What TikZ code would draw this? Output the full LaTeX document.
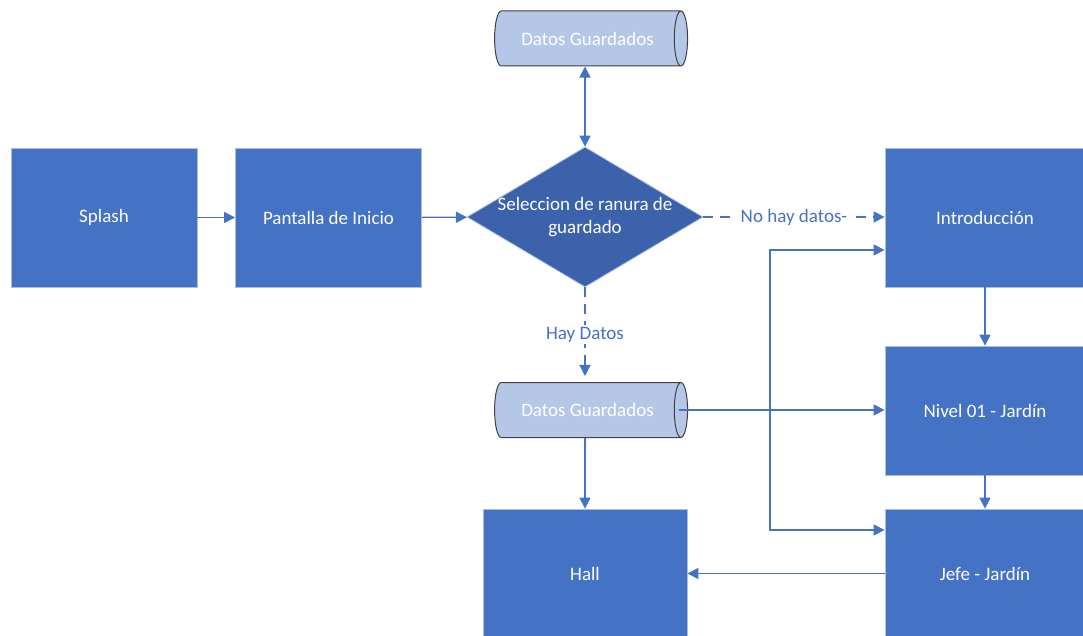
\documentclass[tikz,border=0pt]{standalone}
\usepackage{fontspec}
\setmainfont{Carlito}
\usetikzlibrary{shapes.geometric,arrows.meta,calc}
\definecolor{boxblue}{HTML}{4472C4}
\definecolor{darkblue}{HTML}{3C62AC}
\definecolor{lightblue}{HTML}{B4C7E7}
\definecolor{boxedge}{HTML}{A9BEE3}
\definecolor{cylline}{HTML}{404040}
\begin{document}
\begin{tikzpicture}[x=1pt,y=-1pt,
  font=\fontsize{19}{23}\selectfont,
  block/.style={rectangle, fill=boxblue, draw=boxedge, line width=0.8pt,
    text=white, minimum width=186pt, minimum height=139pt, inner sep=0pt},
  decision/.style={diamond, fill=darkblue, draw=boxedge, line width=0.8pt,
    minimum width=236pt, minimum height=140pt, inner sep=0pt},
  store/.style={cylinder, shape aspect=1.0, draw=cylline, line width=1pt,
    cylinder uses custom fill, cylinder body fill=lightblue,
    cylinder end fill=lightblue, text=white,
    minimum height=193pt, minimum width=55pt, inner sep=0pt},
  conn/.style={draw=boxblue, line width=1.3pt,
    -{Triangle[length=11pt,width=11pt]}},
  twoway/.style={draw=boxblue, line width=1.3pt,
    {Triangle[length=11pt,width=11pt]}-{Triangle[length=11pt,width=11pt]}},
  dashedconn/.style={conn, dash pattern=on 10pt off 7pt},
  edgelabel/.style={fill=white, text=boxblue, inner xsep=6pt, inner ysep=2pt}
]
\clip (0,0) rectangle (1083,636);
\fill[white] (0,0) rectangle (1083,636);

% process boxes
\node[block] (splash) at (104,217.5) {Splash};
\node[block] (inicio) at (328.5,217.5) {Pantalla de Inicio};
\node[block, minimum width=200pt] (intro) at (985,217.5) {Introducción};
\node[block, minimum width=200pt, minimum height=129pt] (nivel) at (985,410.5) {Nivel 01 - Jardín};
\node[block, minimum width=200pt, minimum height=129pt] (jefe) at (985,573.5) {Jefe - Jardín};
\node[block, minimum width=204pt, minimum height=129pt] (hall) at (585,573.5) {Hall};

% decision
\node[decision, label={[text=white, align=center]center:Seleccion de ranura de\\guardado}] (sel) at (585,217) {};

% saved data stores
\node[store] (cyl1) at (587.5,38.5) {Datos Guardados};
\node[store] (cyl2) at (587.5,410) {Datos Guardados};

% branch points of the right-hand bus
\coordinate (bt) at (770,250);
\coordinate (bb) at (770,530);

% connectors
\draw[conn] (splash) -- (inicio);
\draw[conn] (inicio) -- (sel);
\draw[twoway] (sel.north) -- (sel.north |- cyl1.south);
\draw[dashedconn] (sel.east) -- node[edgelabel] {No hay datos-} (intro.west |- sel.east);
\draw[dashedconn, shorten >=6pt] (sel.south) -- node[edgelabel] {Hay Datos} (sel.south |- cyl2.north);
\draw[conn] ($(cyl2.east)+(-9,0)$) -- (nivel.west |- cyl2.east);
\draw[conn] (sel.south |- cyl2.south) -- (hall.north);
\draw[conn] (intro.south) -- (nivel.north);
\draw[conn] (nivel.south) -- (jefe.north);
\draw[conn] (jefe.west) -- (hall.east);
\draw[twoway] (intro.west |- bt) -- (bt) -- (bb) -- (jefe.west |- bb);
\end{tikzpicture}
\end{document}
